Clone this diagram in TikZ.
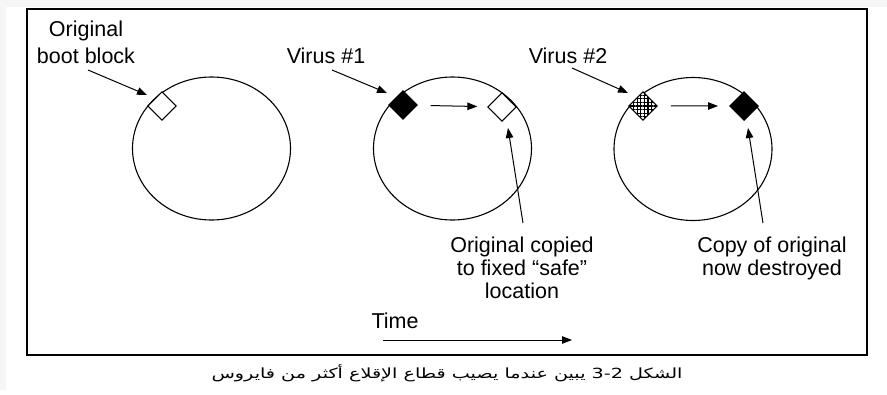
\documentclass[tikz,border=0pt]{standalone}
\usepackage{fontspec}
\setmainfont{Liberation Sans}
\newfontfamily\arabicfont[Script=Arabic]{DejaVu Sans}
\TeXXeTstate=1
\usetikzlibrary{arrows.meta,shapes.geometric,patterns.meta}
\begin{document}
\begin{tikzpicture}[x=1pt,y=-1pt,
  lbl/.style={inner sep=0pt,font=\fontsize{21.5}{23}\selectfont,align=center},
  disk/.style={ellipse,draw,line width=1.1pt,inner sep=0pt,minimum width=158pt,minimum height=143pt},
  blk/.style={rectangle,draw,line width=1.2pt,inner sep=0pt,minimum size=20pt,rotate=45},
  arr/.style={line width=1pt,-{Triangle[length=10pt,width=7.5pt]}}]
\useasboundingbox (0,0) rectangle (887,394);
\fill[gray!7] (0,0) rectangle (887,7);
\fill[gray!7] (0,0) rectangle (6,390);
\draw[line width=2pt] (27,9) rectangle (867,355);
% disks
\node[disk] (d1) at (211.5,148.5) {};
\node[disk] (d2) at (452.5,148.5) {};
\node[disk] (d3) at (693,149) {};
% blocks
\node[blk,fill=white] (b1) at (162,106) {};
\node[blk,fill=black] (v1) at (403,105) {};
\node[blk,fill=white] (o2) at (502,107) {};
\node[blk,fill=white,postaction={pattern={Lines[angle=0,distance=3.6pt,line width=1.3pt]}},postaction={pattern={Lines[angle=90,distance=3.6pt,line width=1.3pt]}}] (v2) at (643,106) {};
\node[blk,fill=black] (c3) at (744,106) {};
% labels
\node[lbl,anchor=north,font=\fontsize{21.5}{27}\selectfont] (tb) at (86,21) {Original\\boot block};
\node[lbl,anchor=base] (tv1) at (326,63) {Virus \#1};
\node[lbl,anchor=base] (tv2) at (568,63) {Virus \#2};
\node[lbl,anchor=north] (tc) at (522,237) {Original copied\\to fixed ``safe''\\location};
\node[lbl,anchor=north] (td) at (772,237) {Copy of original\\now destroyed};
\node[lbl,anchor=base] (tt) at (395,328) {Time};
\node[inner sep=0pt,anchor=base] (cap) at (447,378) {\scalebox{1.37}[1]{\arabicfont\fontsize{14}{16}\selectfont\beginR الشكل \beginL 3-2\endL{} يبين عندما يصيب قطاع الإقلاع أكثر من فايروس\endR}};
% arrow end points
\coordinate (pb0) at (88,70);  \coordinate (pb1) at (147,95);
\coordinate (p10) at (332,70); \coordinate (p11) at (387,93);
\coordinate (p20) at (572,68); \coordinate (p21) at (628,93);
\coordinate (uc0) at (523,223); \coordinate (uc1) at (508,128);
\coordinate (ud0) at (763,223); \coordinate (ud1) at (748,128);
\coordinate (t0) at (383,340); \coordinate (t1) at (572,340);
% connectors
\draw[arr] (pb0) -- (pb1);
\draw[arr] (p10) -- (p11);
\draw[arr] (p20) -- (p21);
\draw[arr,shorten <=13pt,shorten >=10pt] (v1) -- (o2);
\draw[arr,shorten <=13pt,shorten >=11pt] (v2) -- (c3);
\draw[arr] (uc0) -- (uc1);
\draw[arr] (ud0) -- (ud1);
\draw[arr] (t0) -- (t1);
\end{tikzpicture}
\end{document}
